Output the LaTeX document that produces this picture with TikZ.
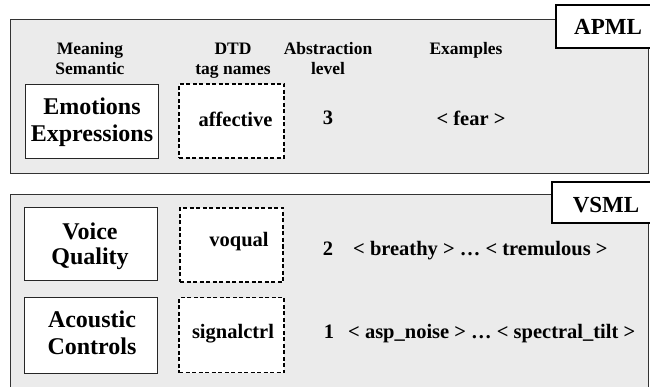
\documentclass[tikz,border=0pt]{standalone}
\usepackage{fontspec}
\setmainfont{Liberation Serif}
\definecolor{panelgray}{RGB}{235,235,235}
\begin{document}
\begin{tikzpicture}[x=1pt,y=-1pt,
  panel/.style={draw=black!80, line width=0.9pt, fill=panelgray, anchor=north west, inner sep=0pt},
  solidbox/.style={draw=black!85, line width=0.9pt, fill=white, inner sep=0pt},
  dashbox/.style={draw=black, line width=1.4pt, dash pattern=on 4pt off 2.5pt, fill=white, inner sep=0pt},
  tagbox/.style={draw=black, line width=1.3pt, fill=white, inner sep=0pt},
  hdr/.style={font=\bfseries\fontsize{17.5}{20}\selectfont, anchor=base, inner sep=0pt},
  big/.style={font=\bfseries\fontsize{24}{26}\selectfont, anchor=base, inner sep=0pt},
  mid/.style={font=\bfseries\fontsize{20.5}{22}\selectfont, anchor=base, inner sep=0pt},
  midw/.style={mid, anchor=base west},
  tagtext/.style={font=\bfseries\fontsize{23}{25}\selectfont, inner sep=0pt}
]
\useasboundingbox (0,0) rectangle (650,387);
\clip (0,0) rectangle (650,387);

% panels
\node[panel, minimum width=638pt, minimum height=154pt] (apmlpanel) at (10,19) {};
\node[panel, minimum width=638pt, minimum height=210pt] (vsmlpanel) at (10,194) {};

% corner tags
\node[tagbox, minimum width=104pt, minimum height=43pt] (apmltag) at (608,26.5) {};
\node[tagtext, anchor=base] (apmltxt) at (608,35) {APML};
\node[tagbox, minimum width=108pt, minimum height=41pt] (vsmltag) at (606,202.5) {};
\node[tagtext, anchor=base] (vsmltxt) at (606,213) {VSML};

% headers
\node[hdr] (h1a) at (90,55) {Meaning};
\node[hdr] (h1b) at (90,75) {Semantic};
\node[hdr] (h2a) at (233,55) {DTD};
\node[hdr] (h2b) at (233,75) {tag names};
\node[hdr] (h3a) at (328,55) {Abstraction};
\node[hdr] (h3b) at (328,75) {level};
\node[hdr] (h4) at (466,55) {Examples};

% boxes
\node[solidbox, minimum width=133pt, minimum height=74pt] (emobox) at (91.5,121) {};
\node[dashbox, minimum width=105pt, minimum height=74pt] (affbox) at (231.5,121) {};
\node[solidbox, minimum width=133pt, minimum height=73pt] (voibox) at (91,243.5) {};
\node[dashbox, minimum width=103pt, minimum height=74pt] (voqbox) at (231.5,245) {};
\node[solidbox, minimum width=133pt, minimum height=76pt] (acobox) at (91,335) {};
\node[dashbox, minimum width=105pt, minimum height=75pt] (sigbox) at (231.5,335) {};

% box texts
\node[big] (emo1) at (92,115) {Emotions};
\node[big] (emo2) at (92,141.5) {Expressions};
\node[big] (voi1) at (90,240) {Voice};
\node[big] (voi2) at (90,265) {Quality};
\node[big] (aco1) at (92,327) {Acoustic};
\node[big] (aco2) at (92,354) {Controls};

\node[mid] (afftxt) at (235.5,126.5) {affective};
\node[mid] (voqtxt) at (239,247) {voqual};
\node[mid] (sigtxt) at (233,338) {signalctrl};

% levels and examples
\node[mid] (lev3) at (328,125) {3};
\node[mid] (ex3) at (471,126) {< fear >};
\node[mid] (lev2) at (328,255) {2};
\node[midw] (ex2) at (353,255) {< breathy > … < tremulous >};
\node[mid] (lev1) at (329,338) {1};
\node[midw] (ex1) at (348,338) {< asp\_noise > … < spectral\_tilt >};
\end{tikzpicture}
\end{document}
